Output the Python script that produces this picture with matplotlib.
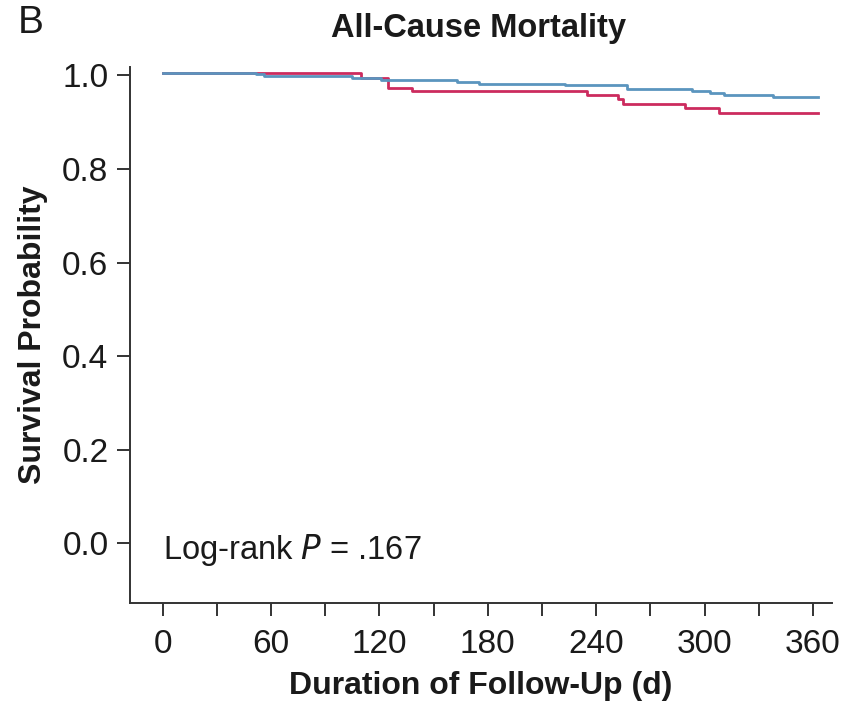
import matplotlib
matplotlib.use("Agg")
import matplotlib.pyplot as plt
import numpy as np

plt.rcParams['font.family'] = ['Liberation Sans', 'DejaVu Sans']

# Step change times (days) and survival after each step
blue_days = [0, 52, 56, 105, 121, 163, 175, 223, 257, 293, 303, 311, 338, 363]
blue_surv = [1.006, 1.003, 0.998, 0.994, 0.990, 0.986, 0.982, 0.979, 0.971, 0.966, 0.962, 0.959, 0.954, 0.954]

red_days = [0, 110, 125, 138, 235, 252, 255, 289, 308, 363]
red_surv = [1.006, 0.994, 0.974, 0.967, 0.959, 0.949, 0.938, 0.930, 0.919, 0.919]

x_major = [0, 60, 120, 180, 240, 300, 360]
x_minor = [30, 90, 150, 210, 270, 330]
y_ticks = [0.0, 0.2, 0.4, 0.6, 0.8, 1.0]
y_labels = ["0.0", "0.2", "0.4", "0.6", "0.8", "1.0"]

blue_col = "#5b95be"
red_col = "#cc2b5e"

fig = plt.figure(figsize=(8.56, 7.11), dpi=100)
ax = fig.add_axes([130/856, 1-603/711, (832-130)/856, (603-67)/711])

ax.step(red_days, red_surv, where='post', color=red_col, lw=2.0)
ax.step(blue_days, blue_surv, where='post', color=blue_col, lw=2.0)

ax.set_xlim(-18, 370.5)
ax.set_ylim(-0.1276, 1.018)

for s in ['top', 'right']:
    ax.spines[s].set_visible(False)
for s in ['left', 'bottom']:
    ax.spines[s].set_color('#333333')
    ax.spines[s].set_linewidth(1.4)

ax.set_xticks(x_major)
ax.set_xticklabels([str(v) for v in x_major])
ax.set_xticks(x_minor, minor=True)
ax.set_yticks(y_ticks)
ax.set_yticklabels(y_labels)
ax.tick_params(axis='both', which='both', direction='out', length=9.5, width=1.4,
               color='#333333', labelsize=24, labelcolor='#1a1a1a')
ax.tick_params(axis='x', which='major', pad=9)
ax.tick_params(axis='y', which='major', pad=6)

ax.set_xlabel("Duration of Follow-Up (d)", fontsize=23, fontweight='bold', color='#1a1a1a', labelpad=8)
ax.set_ylabel("Survival Probability", fontsize=23, fontweight='bold', color='#1a1a1a', labelpad=10)

ax.text(0, -0.014, "Log-rank $\\it{P}$ = .167", fontsize=23.5, color='#1a1a1a', ha='left', va='center')

fig.text(478/856, 1-28/711, "All-Cause Mortality", fontsize=23.5, fontweight='bold', color='#1a1a1a', ha='center', va='center')
fig.text(18/856, 1-23/711, "B", fontsize=28, color='#1a1a1a', ha='left', va='center')

fig.savefig("out.png", dpi=100)
